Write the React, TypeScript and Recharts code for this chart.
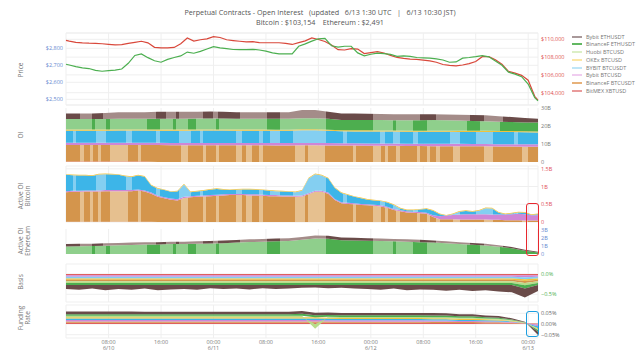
import React from 'react';
import { ComposedChart, Area, Line, XAxis, YAxis, CartesianGrid } from 'recharts';

// time axis: hours since 6/10 00:00 (UTC)
const T0 = 1.5;
const T1 = 73.5;
const xTicks = [8, 16, 24, 32, 40, 48, 56, 64, 72];
const xTickTimes = ['08:00', '16:00', '00:00', '08:00', '16:00', '00:00', '08:00', '16:00', '00:00'];
const xTickDates = ['6/10', '', '6/11', '', '', '6/12', '', '', '6/13'];

// ---- price (hourly) ----
const priceHours = [1.5, 2, 3, 4, 5, 6, 7, 8, 9, 10, 11, 12, 13, 14, 15, 16, 17, 18, 19, 20, 21, 22, 23, 24, 25, 26, 27, 28, 29, 30,
  31, 32, 33, 34, 35, 36, 37, 38, 39, 40, 41, 42, 43, 44, 45, 46, 47, 48, 49, 50, 51, 52, 53, 54, 55, 56, 57, 58, 59, 60,
  61, 62, 63, 64, 65, 66, 67, 68, 69, 70, 71, 72, 73, 73.5];
const btcPrice = [
  109880, 109800, 109660, 109600, 109560, 109540, 109500, 109440, 109380, 109400,
  109550, 109660, 109780, 109600, 109100, 109030, 109030, 109090, 109500, 110150,
  109800, 109950, 110050, 110300, 110200, 109950, 109860, 109780, 109700, 109730,
  109620, 109615, 109615, 109615, 109540, 109420, 109620, 109820, 110150, 109980,
  109760, 109350, 108830, 108800, 108950, 108900, 108400, 108510, 108620, 108460,
  108190, 107960, 107850, 107770, 107740, 107660, 107570, 107420, 107170, 107060,
  107020, 107110, 107270, 107500, 108050, 108050, 107700, 107200, 106400, 106200,
  105950, 105400, 103600, 103154];
const ethPrice = [
  2706, 2702, 2692, 2685, 2681, 2670, 2665, 2669, 2672, 2678,
  2712, 2758, 2767, 2745, 2727, 2718, 2735, 2746, 2755, 2778,
  2771, 2782, 2796, 2810, 2803, 2798, 2793, 2792, 2792, 2794,
  2790, 2783, 2773, 2767, 2767, 2767, 2812, 2826, 2842, 2856,
  2858, 2815, 2807, 2812, 2812, 2773, 2756, 2765, 2772, 2769,
  2764, 2753, 2755, 2752, 2746, 2744, 2742, 2738, 2731, 2718,
  2720, 2742, 2746, 2751, 2757, 2750, 2725, 2700, 2660, 2648,
  2633, 2590, 2510, 2491];

// ---- open interest (2-hourly, billions USD) ----
const oiHours = [1.5, 3.5, 5.5, 7.5, 9.5, 11.5, 13.5, 15.5, 17.5, 19.5, 21.5, 23.5, 25.5, 27.5, 29.5, 31.5, 33.5, 35.5, 37.5,
  39.5, 41.5, 43.5, 45.5, 47.5, 49.5, 51.5, 53.5, 55.5, 57.5, 59.5, 61.5, 63.5, 65.5, 67.5, 69.5, 71.5, 73.5];
const bitmexOi = [0.3, 0.3, 0.3, 0.3, 0.3, 0.3, 0.3, 0, 0, 0, 0, 0, 0, 0, 0, 0, 0, 0, 0, 0, 0, 0, 0, 0, 0, 0, 0, 0, 0, 0, 0, 0, 0, 0, 0, 0, 0];
const binanceBtcOi = [9.1, 9.1, 9.1, 9.1, 9.1, 9.1, 9.1, 9.4, 9.3, 9.3, 9.3, 9.3, 9.3, 9.3, 9.3, 9.3, 9.2, 9.2, 9.3,
  9.3, 9.2, 9.1, 9.1, 9.0, 9.0, 9.0, 8.9, 8.9, 8.8, 8.8, 8.8, 8.7, 8.7, 8.6, 8.6, 8.5, 8.5];
const bybitInvOi = [1.3, 1.3, 1.3, 1.3, 1.3, 1.3, 1.3, 1.3, 1.3, 1.3, 1.3, 1.3, 1.3, 1.3, 1.3, 1.3, 1.3, 1.3, 1.3,
  1.3, 1.3, 1.3, 1.3, 1.3, 1.3, 1.3, 1.3, 1.3, 1.3, 1.3, 1.3, 1.3, 1.3, 1.3, 1.3, 1.3, 1.3];
const bybitBtcOi = [6.7, 6.7, 6.7, 6.7, 6.8, 6.8, 6.8, 6.7, 6.8, 6.8, 6.9, 6.9, 6.9, 6.8, 6.8, 6.8, 6.8, 6.8, 7.0,
  7.0, 6.8, 6.7, 6.6, 6.7, 6.6, 6.6, 6.6, 6.6, 6.7, 6.7, 6.6, 6.7, 6.7, 6.7, 6.7, 6.7, 6.6];
const okexOi = [0.6, 0.6, 0.6, 0.6, 0.6, 0.6, 0.6, 0.6, 0.6, 0.6, 0.6, 0.6, 0.6, 0.6, 0.6, 0.6, 0.6, 0.6, 0.6,
  0.6, 0.6, 0.6, 0.6, 0.6, 0.6, 0.6, 0.6, 0.6, 0.6, 0.6, 0.6, 0.6, 0.6, 0.6, 0.6, 0.6, 0.6];
const binanceEthOi = [5.9, 5.9, 5.9, 5.9, 5.9, 5.9, 5.9, 6.0, 6.0, 6.0, 6.0, 6.1, 6.0, 6.0, 6.0, 6.0, 6.1, 6.1, 6.1,
  6.1, 6.1, 5.7, 5.7, 5.7, 5.8, 5.7, 5.8, 5.8, 5.9, 5.8, 5.7, 5.5, 5.3, 5.2, 5.0, 4.9, 5.0];
const bybitEthOi = [3.1, 3.1, 3.1, 3.3, 3.6, 3.6, 3.6, 3.9, 3.9, 3.9, 3.8, 3.8, 3.8, 3.6, 3.6, 3.6, 3.6, 3.6, 4.6,
  4.6, 3.9, 3.6, 3.7, 3.5, 3.3, 3.3, 3.3, 3.3, 3.2, 3.2, 3.2, 3.3, 3.4, 3.0, 2.8, 2.4, 2.0];

// ---- active OI bitcoin (hourly, billions) ----
const activeHours = [1.5, 2.5, 3.5, 4.5, 5.5, 6.5, 7.5, 8.5, 9.5, 10.5, 11.5, 12.5, 13.5, 14.5, 15.5, 16.5, 17.5, 18.5, 19.5, 20.5,
  21.5, 22.5, 23.5, 24.5, 25.5, 26.5, 27.5, 28.5, 29.5, 30.5, 31.5, 32.5, 33.5, 34.5, 35.5, 36.5, 37.5, 38.5, 39.5, 40.5,
  41.5, 42.5, 43.5, 44.5, 45.5, 46.5, 47.5, 48.5, 49.5, 50.5, 51.5, 52.5, 53.5, 54.5, 55.5, 56.5, 57.5, 58.5, 59.5, 60.5,
  61.5, 62.5, 63.5, 64.5, 65.5, 66.5, 67.5, 68.5, 69.5, 70.5, 71.5, 72.5, 73.5];
const bitmexActive = [0.01, 0.01, 0.01, 0.01, 0.01, 0.01, 0.01, 0.01, 0.01, 0.01, 0.01, 0.01, 0.01, 0.01, 0, 0, 0, 0, 0, 0,
  0, 0, 0, 0, 0, 0, 0, 0, 0, 0, 0, 0, 0, 0, 0, 0, 0, 0, 0, 0, 0, 0, 0, 0, 0, 0, 0, 0, 0, 0,
  0, 0, 0, 0, 0, 0, 0, 0, 0, 0, 0, 0, 0, 0, 0, 0, 0, 0, 0, 0, 0, 0, 0];
const binanceBtcActive = [
  0.83, 0.84, 0.84, 0.85, 0.85, 0.85, 0.86, 0.86, 0.86, 0.86,
  0.86, 0.88, 0.85, 0.79, 0.71, 0.67, 0.63, 0.61, 0.68, 0.70,
  0.71, 0.72, 0.73, 0.74, 0.75, 0.76, 0.76, 0.76, 0.75, 0.75,
  0.74, 0.73, 0.73, 0.72, 0.72, 0.71, 0.72, 0.78, 0.85, 0.85,
  0.80, 0.62, 0.53, 0.51, 0.50, 0.48, 0.47, 0.46, 0.44, 0.40,
  0.34, 0.30, 0.27, 0.26, 0.25, 0.23, 0.14, 0.08, 0.08, 0.08,
  0.07, 0.07, 0.07, 0.07, 0.07, 0.06, 0.06, 0.05, 0.05, 0.05,
  0.04, 0.04, 0.04];
const bybitInvActive = [
  0.03, 0.03, 0.03, 0.03, 0.03, 0.03, 0.03, 0.03, 0.03, 0.03,
  0.03, 0.03, 0.03, 0.03, 0.03, 0.03, 0.03, 0.03, 0.03, 0.03,
  0.03, 0.03, 0.03, 0.03, 0.03, 0.03, 0.03, 0.03, 0.03, 0.03,
  0.03, 0.03, 0.03, 0.03, 0.03, 0.03, 0.03, 0.03, 0.03, 0.03,
  0.03, 0.03, 0.03, 0.03, 0.03, 0.03, 0.03, 0.03, 0.03, 0.03,
  0.03, 0.03, 0.03, 0.03, 0.03, 0.03, 0.05, 0.08, 0.10, 0.12,
  0.14, 0.15, 0.15, 0.15, 0.15, 0.15, 0.15, 0.16, 0.17, 0.18,
  0.18, 0.15, 0.15];
const bybitBtcActive = [
  0.46, 0.44, 0.43, 0.42, 0.41, 0.45, 0.45, 0.44, 0.43, 0.39,
  0.37, 0.39, 0.39, 0.20, 0.20, 0.20, 0.19, 0.22, 0.35, 0.11,
  0.12, 0.13, 0.15, 0.16, 0.13, 0.11, 0.12, 0.13, 0.14, 0.13,
  0.13, 0.12, 0.11, 0.11, 0.10, 0.10, 0.13, 0.42, 0.47, 0.43,
  0.40, 0.31, 0.26, 0.22, 0.18, 0.16, 0.13, 0.12, 0.12, 0.12,
  0.11, 0.05, 0.03, 0.04, 0.07, 0.11, 0.13, 0.06, 0.00, 0.02,
  0.08, 0.09, 0.07, 0.10, 0.17, 0.17, 0.05, 0.01, 0.02, 0.04,
  0.04, 0.01, 0.03];
const okexActive = [
  0.02, 0.02, 0.02, 0.02, 0.02, 0.02, 0.02, 0.02, 0.02, 0.02,
  0.02, 0.02, 0.02, 0.02, 0.02, 0.02, 0.02, 0.02, 0.02, 0.02,
  0.02, 0.02, 0.02, 0.02, 0.02, 0.02, 0.02, 0.02, 0.02, 0.02,
  0.02, 0.02, 0.02, 0.02, 0.02, 0.02, 0.02, 0.02, 0.02, 0.02,
  0.02, 0.02, 0.02, 0.02, 0.02, 0.02, 0.02, 0.02, 0.02, 0.02,
  0.02, 0.02, 0.02, 0.02, 0.02, 0.02, 0.02, 0.02, 0.02, 0.02,
  0.02, 0.02, 0.02, 0.02, 0.02, 0.02, 0.02, 0.02, 0.02, 0.02,
  0.02, 0.02, 0.02];

// ---- active OI ethereum (2-hourly, billions) ----
const binanceEthActive = [0.95, 0.98, 1.0, 1.05, 1.1, 1.15, 1.2, 1.2, 1.25, 1.25, 1.28, 1.33, 1.37, 1.45, 1.51, 1.55, 1.6, 1.65, 1.8,
  1.95, 1.92, 1.75, 1.72, 1.68, 1.65, 1.6, 1.55, 1.5, 1.44, 1.35, 1.25, 1.16, 1.06, 0.92, 0.72, 0.4, 0.18];
const bybitEthActive = [0.3, 0.3, 0.3, 0.3, 0.3, 0.3, 0.3, 0.3, 0.3, 0.3, 0.32, 0.32, 0.33, 0.33, 0.34, 0.35, 0.35, 0.35, 0.35,
  0.4, 0.38, 0.35, 0.33, 0.32, 0.3, 0.3, 0.3, 0.3, 0.28, 0.27, 0.25, 0.24, 0.22, 0.2, 0.18, 0.15, 0.12];

// ---- basis (2-hourly, %) ----
const bitmexBasis = [-0.03, -0.03, -0.03, -0.03, -0.03, -0.03, -0.03, -0.03, -0.03, -0.03, -0.03, -0.03, -0.03, -0.03, -0.03, -0.03, -0.03, -0.03, -0.03,
  -0.03, -0.03, -0.03, -0.03, -0.03, -0.03, -0.03, -0.03, -0.03, -0.03, -0.03, -0.03, -0.03, -0.03, -0.03, -0.03, -0.03, -0.03];
const bybitInvBasis = [-0.04, -0.04, -0.04, -0.04, -0.04, -0.04, -0.04, -0.04, -0.04, -0.04, -0.04, -0.04, -0.04, -0.04, -0.04, -0.04, -0.04, -0.04, -0.04,
  -0.04, -0.04, -0.04, -0.04, -0.04, -0.04, -0.04, -0.04, -0.04, -0.04, -0.04, -0.04, -0.04, -0.04, -0.04, -0.04, -0.05, -0.04];
const bybitBtcBasis = [-0.04, -0.04, -0.04, -0.04, -0.04, -0.04, -0.04, -0.04, -0.04, -0.04, -0.04, -0.04, -0.04, -0.04, -0.04, -0.04, -0.04, -0.04, -0.04,
  -0.04, -0.04, -0.04, -0.04, -0.04, -0.04, -0.04, -0.04, -0.04, -0.04, -0.04, -0.04, -0.04, -0.04, -0.04, -0.04, -0.05, -0.04];
const okexBasis = [-0.03, -0.03, -0.03, -0.03, -0.03, -0.03, -0.03, -0.03, -0.03, -0.03, -0.03, -0.03, -0.03, -0.03, -0.03, -0.03, -0.03, -0.03, -0.03,
  -0.03, -0.03, -0.03, -0.03, -0.03, -0.03, -0.03, -0.03, -0.03, -0.03, -0.03, -0.03, -0.03, -0.03, -0.03, -0.03, -0.04, -0.03];
const binanceBtcBasis = [-0.04, -0.04, -0.04, -0.04, -0.04, -0.04, -0.04, -0.04, -0.04, -0.04, -0.04, -0.04, -0.04, -0.04, -0.04, -0.04, -0.04, -0.04, -0.04,
  -0.04, -0.04, -0.04, -0.04, -0.04, -0.04, -0.04, -0.04, -0.04, -0.04, -0.04, -0.04, -0.04, -0.04, -0.04, -0.04, -0.05, -0.04];
const huobiBasis = [-0.04, -0.04, -0.04, -0.04, -0.04, -0.04, -0.04, -0.04, -0.04, -0.04, -0.04, -0.04, -0.04, -0.04, -0.04, -0.04, -0.04, -0.04, -0.04,
  -0.04, -0.04, -0.04, -0.04, -0.04, -0.04, -0.04, -0.04, -0.04, -0.04, -0.04, -0.04, -0.04, -0.04, -0.04, -0.04, -0.06, -0.04];
const binanceEthBasis = [-0.05, -0.05, -0.05, -0.05, -0.05, -0.05, -0.05, -0.05, -0.05, -0.05, -0.05, -0.05, -0.05, -0.05, -0.05, -0.05, -0.05, -0.05, -0.05,
  -0.05, -0.05, -0.05, -0.05, -0.05, -0.05, -0.05, -0.05, -0.05, -0.05, -0.05, -0.05, -0.05, -0.05, -0.05, -0.05, -0.08, -0.05];
const bybitEthBasis = [-0.10, -0.12, -0.09, -0.13, -0.10, -0.12, -0.09, -0.13, -0.11, -0.10, -0.12, -0.08, -0.10, -0.09, -0.11, -0.08, -0.10, -0.09, -0.07,
  -0.06, -0.08, -0.07, -0.09, -0.10, -0.12, -0.09, -0.13, -0.11, -0.12, -0.14, -0.12, -0.15, -0.13, -0.16, -0.18, -0.22, -0.15];

// ---- funding rate (2-hourly, %) ----
const bitmexFunding = [0.006, 0.006, 0.006, 0.006, 0.006, 0.006, 0.006, 0.006, 0.006, 0.006, 0.006, 0.006, 0.006, 0.006, 0.006, 0.006, 0.006, 0.006, 0.006,
  0.006, 0.006, 0.006, 0.006, 0.006, 0.006, 0.006, 0.006, 0.006, 0.005, 0.005, 0.005, 0.005, 0.004, 0.004, 0.003, 0.002, 0.002];
const binanceBtcFunding = [0.006, 0.006, 0.006, 0.006, 0.006, 0.006, 0.006, 0.006, 0.006, 0.006, 0.006, 0.006, 0.006, 0.006, 0.006, 0.006, 0.006, 0.006, 0.006,
  0.006, 0.006, 0.005, 0.005, 0.005, 0.005, 0.005, 0.005, 0.005, 0.005, 0.005, 0.004, 0.004, 0.004, 0.004, 0.003, 0.001, -0.002];
const bybitInvFunding = [0.007, 0.007, 0.007, 0.007, 0.007, 0.007, 0.007, 0.007, 0.007, 0.007, 0.007, 0.007, 0.007, 0.007, 0.007, 0.007, 0.007, 0.007, 0.007,
  0.007, 0.006, 0.006, 0.006, 0.006, 0.006, 0.006, 0.006, 0.006, 0.006, 0.006, 0.005, 0.005, 0.005, 0.004, 0.003, 0.001, -0.008];
const bybitBtcFunding = [0.007, 0.007, 0.007, 0.007, 0.007, 0.007, 0.007, 0.007, 0.007, 0.007, 0.007, 0.007, 0.007, 0.007, 0.007, 0.007, 0.007, 0.007, 0.007,
  0.007, 0.006, 0.006, 0.006, 0.006, 0.006, 0.006, 0.006, 0.006, 0.006, 0.006, 0.005, 0.005, 0.005, 0.004, 0.003, 0.001, -0.010];
const okexFunding = [0.006, 0.006, 0.006, 0.006, 0.006, 0.006, 0.006, 0.006, 0.006, 0.006, 0.006, 0.006, 0.006, 0.006, 0.006, 0.006, 0.006, 0.006, 0.006,
  0.006, 0.005, 0.005, 0.005, 0.005, 0.005, 0.005, 0.005, 0.005, 0.005, 0.005, 0.005, 0.005, 0.004, 0.004, 0.003, 0.001, -0.004];
const huobiFunding = [0.006, 0.006, 0.006, 0.006, 0.006, 0.006, 0.006, 0.006, 0.006, 0.006, 0.006, 0.006, 0.006, 0.006, 0.006, 0.006, 0.006, 0.006, 0.006,
  -0.022, 0.005, 0.005, 0.005, 0.005, 0.005, 0.005, 0.005, 0.005, 0.005, 0.005, 0.005, 0.005, 0.004, 0.004, 0.003, 0.001, -0.004];
const binanceEthFunding = [0.008, 0.008, 0.008, 0.008, 0.008, 0.008, 0.008, 0.008, 0.008, 0.008, 0.008, 0.008, 0.008, 0.008, 0.008, 0.008, 0.008, 0.008, 0.010,
  0.009, 0.008, 0.008, 0.008, 0.008, 0.008, 0.008, 0.008, 0.008, 0.008, 0.008, 0.007, 0.007, 0.006, 0.005, 0.003, 0.001, -0.008];
const bybitEthFunding = [0.012, 0.012, 0.012, 0.012, 0.012, 0.012, 0.011, 0.011, 0.011, 0.011, 0.011, 0.011, 0.011, 0.011, 0.011, 0.011, 0.011, 0.011, 0.013,
  0.012, 0.012, 0.011, 0.011, 0.011, 0.011, 0.011, 0.011, 0.011, 0.011, 0.010, 0.010, 0.010, 0.008, 0.008, 0.006, 0.002, -0.015];

// periods drawn in the alternate shade (hours)
const orangeAlt = [[3.6, 4.3], [5.1, 5.6], [6.4, 6.9], [8.2, 11.0], [12.5, 13.0], [19.1, 20.1], [22.4, 22.9], [24.4, 24.9],
  [27.5, 28.3], [29.0, 29.8], [31.0, 31.6], [36.4, 37.9], [38.4, 41.0], [45.3, 45.8], [48.4, 49.6], [50.1, 50.6],
  [51.9, 52.4], [55.0, 55.5], [56.5, 57.0], [58.0, 58.5], [60.6, 61.6], [65.2, 66.7], [71.1, 72.0]];
const blueAlt = [[2.6, 3.1], [6.1, 7.6], [10.7, 11.5], [15.3, 15.8], [18.8, 20.6], [21.9, 22.4], [27.5, 28.3], [31.0, 31.6],
  [32.6, 34.1], [36.1, 41.2], [43.8, 44.3], [49.4, 50.1], [51.4, 52.4], [54.5, 55.2], [60.1, 61.6], [64.1, 66.7], [69.8, 70.4]];
const greenAlt = [[5.4, 5.9], [7.6, 8.2], [13.8, 15.8], [17.8, 18.3], [20.1, 21.4], [24.4, 24.9], [32.1, 34.1], [41.2, 48.4],
  [51.4, 51.9], [54.5, 56.5], [62.6, 64.6], [67.7, 73.5]];
const brownAlt = [[1.5, 3.6], [5.4, 7.1], [15.3, 16.8], [18.3, 18.8], [22.4, 23.9], [24.7, 28.0], [32.1, 34.1], [41.2, 48.4],
  [55.5, 58.0], [63.1, 65.2], [68.2, 73.5]];

const C = {
  red: '#e0605c',
  orange: '#d4954c',
  orangeLight: '#e6c08f',
  pink: '#cf86d6',
  blue: '#3db5e8',
  blueLight: '#84cff1',
  yellow: '#f0c23e',
  huobi: '#b9dc8a',
  green: '#8fcf8c',
  greenDark: '#4dae4f',
  brown: '#a48c89',
  brownDark: '#6a4b49',
};

const legendItems = [
  { name: 'Bybit ETHUSDT', color: '#a9999a' },
  { name: 'BinanceF ETHUSDT', color: '#62b862' },
  { name: 'Huobi BTCUSD', color: '#dcefc6' },
  { name: 'OKEx BTCUSD', color: '#fbe6a6' },
  { name: 'BYBIT BTCUSDT', color: '#bfe6f7' },
  { name: 'Bybit BTCUSD', color: '#f0cdf0' },
  { name: 'BinanceF BTCUSDT', color: '#e7b27a' },
  { name: 'BitMEX XBTUSD', color: '#e99b9b' },
];

const priceData = priceHours.map((t, i) => ({ t, btc: btcPrice[i], eth: ethPrice[i] }));
const oiData = oiHours.map((t, i) => ({
  t, bitmex: bitmexOi[i], binanceBtc: binanceBtcOi[i], bybitInv: bybitInvOi[i], bybitBtc: bybitBtcOi[i],
  okex: okexOi[i], binanceEth: binanceEthOi[i], bybitEth: bybitEthOi[i],
}));
const activeBtcData = activeHours.map((t, i) => ({
  t, bitmex: bitmexActive[i], binanceBtc: binanceBtcActive[i], bybitInv: bybitInvActive[i],
  bybitBtc: bybitBtcActive[i], okex: okexActive[i],
}));
const activeEthData = oiHours.map((t, i) => ({ t, binanceEth: binanceEthActive[i], bybitEth: bybitEthActive[i] }));
const basisData = oiHours.map((t, i) => ({
  t, bitmex: bitmexBasis[i], bybitInv: bybitInvBasis[i], bybitBtc: bybitBtcBasis[i], okex: okexBasis[i],
  binanceBtc: binanceBtcBasis[i], huobi: huobiBasis[i], binanceEth: binanceEthBasis[i], bybitEth: bybitEthBasis[i],
}));
const fundingData = oiHours.map((t, i) => ({
  t, bitmex: bitmexFunding[i], binanceBtc: binanceBtcFunding[i], bybitInv: bybitInvFunding[i], bybitBtc: bybitBtcFunding[i],
  okex: okexFunding[i], huobi: huobiFunding[i], binanceEth: binanceEthFunding[i], bybitEth: bybitEthFunding[i],
}));

const PAD = 6;
const LEFT = 66;
const RIGHT_W = 102;
const FONT = '"Open Sans", "DejaVu Sans", sans-serif';
const tickStyle = (fill: string) => ({ fontSize: 5.5, fill });
const minus = (s: string) => s.replace('-', '\u2212');

function stripes(id: string, base: string, alt: string, spans: number[][]) {
  const f = (t: number) => (((t - T0) / (T1 - T0)) * 100).toFixed(3) + '%';
  const stops = [<stop key="s" offset="0%" stopColor={base} />];
  spans.forEach(([a, b], i) => {
    stops.push(<stop key={i + 'a'} offset={f(a)} stopColor={base} />);
    stops.push(<stop key={i + 'b'} offset={f(a)} stopColor={alt} />);
    stops.push(<stop key={i + 'c'} offset={f(b)} stopColor={alt} />);
    stops.push(<stop key={i + 'd'} offset={f(b)} stopColor={base} />);
  });
  stops.push(<stop key="e" offset="100%" stopColor={base} />);
  return <linearGradient id={id} x1="0" y1="0" x2="1" y2="0">{stops}</linearGradient>;
}

const XTick = (props: any) => {
  const { x, y, payload } = props;
  const i = xTicks.indexOf(payload.value);
  return (
    <g>
      <text x={x} y={y + 3.5} textAnchor="middle" fontSize={5.5} fill="#777">{xTickTimes[i]}</text>
      {xTickDates[i] ? <text x={x} y={y + 10} textAnchor="middle" fontSize={5.5} fill="#777">{xTickDates[i]}</text> : null}
    </g>
  );
};

const hiddenX = <XAxis dataKey="t" type="number" domain={[T0, T1]} ticks={xTicks} hide />;

const area = (key: string, fill: string, stack: string) => (
  <Area key={key} dataKey={key} stackId={stack} type="linear" stroke="none" fill={fill} fillOpacity={1} isAnimationActive={false} />
);

const PanelLabel = ({ x, y, text }: { x: number; y: number; text: string }) => (
  <div style={{
    position: 'absolute', left: x, top: y, transform: 'translate(-50%, -50%) rotate(-90deg)',
    fontSize: 6.5, color: '#777', whiteSpace: 'pre', textAlign: 'center', lineHeight: 1.1,
  }}>{text}</div>
);

const rightAxis = (domain: number[], ticks: number[], color: string, fmt: (v: number) => string) => (
  <YAxis orientation="right" width={RIGHT_W} domain={domain} ticks={ticks} interval={0} allowDataOverflow
    tickLine={false} axisLine={false} tickSize={0} tickMargin={3} tick={tickStyle(color)} tickFormatter={fmt} />
);

const fmtB = (v: number) => (v === 0 ? '0' : v + 'B');
const fmtUsd = (v: number) => '$' + String(v).replace(/\B(?=(\d{3})+(?!\d))/g, ',');

export default function App() {
  return (
    <div style={{ position: 'absolute', left: 0, top: 0, width: 640, height: 360, background: '#fff', fontFamily: FONT, overflow: 'hidden' }}>
      <svg width={0} height={0} style={{ position: 'absolute' }}>
        <defs>
          {stripes('gOrange', C.orange, C.orangeLight, orangeAlt)}
          {stripes('gBlue', C.blue, C.blueLight, blueAlt)}
          {stripes('gGreen', C.green, C.greenDark, greenAlt)}
          {stripes('gBrown', C.brown, C.brownDark, brownAlt)}
        </defs>
      </svg>

      <div style={{ position: 'absolute', left: 0, width: 640, top: 8, textAlign: 'center', fontSize: 7.2, color: '#555', whiteSpace: 'pre', lineHeight: '9.5px' }}>
        {'Perpetual Contracts - Open Interest   (updated   6/13 1:30 UTC   |   6/13 10:30 JST)'}
        <br />
        {'Bitcoin : $103,154    Ethereum : $2,491'}
      </div>

      <PanelLabel x={21} y={70} text="Price" />
      <PanelLabel x={21} y={135} text="OI" />
      <PanelLabel x={24} y={196} text={'Active OI\nBitcoin'} />
      <PanelLabel x={24} y={241} text={'Active OI\nEthereum'} />
      <PanelLabel x={21} y={282} text="Basis" />
      <PanelLabel x={24} y={318} text={'Funding\nRate'} />

      {/* Price */}
      <div style={{ position: 'absolute', left: 0, top: 33 - PAD }}>
        <ComposedChart width={640} height={72 + 2 * PAD} data={priceData} margin={{ top: PAD, bottom: PAD, left: 0, right: 0 }}>
          <CartesianGrid stroke="#efefef" yAxisId="eth" />
          <CartesianGrid stroke="#efefef" yAxisId="btc" vertical={false} />
          {hiddenX}
          <YAxis yAxisId="eth" orientation="left" width={LEFT} domain={[2466.5, 2890]} ticks={[2500, 2600, 2700, 2800]} interval={0}
            allowDataOverflow tickLine={false} axisLine={false} tickSize={0} tickMargin={3} tick={tickStyle('#6688d0')}
            tickFormatter={fmtUsd} />
          <YAxis yAxisId="btc" orientation="right" width={RIGHT_W} domain={[102618, 110708]} ticks={[104000, 106000, 108000, 110000]} interval={0}
            allowDataOverflow tickLine={false} axisLine={false} tickSize={0} tickMargin={3} tick={tickStyle('#dd5050')}
            tickFormatter={fmtUsd} />
          <Line yAxisId="btc" dataKey="btc" type="linear" stroke="#d9483b" strokeWidth={1.2} dot={false} isAnimationActive={false} />
          <Line yAxisId="eth" dataKey="eth" type="linear" stroke="#4caf50" strokeWidth={1.2} dot={false} isAnimationActive={false} />
        </ComposedChart>
      </div>

      {/* OI */}
      <div style={{ position: 'absolute', left: 0, top: 108 - PAD }}>
        <ComposedChart width={640} height={54 + 2 * PAD} data={oiData} margin={{ top: PAD, bottom: PAD, left: LEFT, right: 0 }}>
          <CartesianGrid stroke="#efefef" horizontal={false} />
          {hiddenX}
          {rightAxis([0, 30], [0, 10, 20, 30], '#777', fmtB)}
          {area('bitmex', C.red, 'oi')}
          {area('binanceBtc', 'url(#gOrange)', 'oi')}
          {area('bybitInv', C.pink, 'oi')}
          {area('bybitBtc', 'url(#gBlue)', 'oi')}
          {area('okex', C.yellow, 'oi')}
          {area('binanceEth', 'url(#gGreen)', 'oi')}
          {area('bybitEth', 'url(#gBrown)', 'oi')}
        </ComposedChart>
      </div>

      {/* Active OI Bitcoin */}
      <div style={{ position: 'absolute', left: 0, top: 166 - PAD }}>
        <ComposedChart width={640} height={56 + 2 * PAD} data={activeBtcData} margin={{ top: PAD, bottom: PAD, left: LEFT, right: 0 }}>
          <CartesianGrid stroke="#efefef" />
          {hiddenX}
          {rightAxis([0, 1.58], [0, 0.5, 1, 1.5], '#e0505a', fmtB)}
          {area('bitmex', C.red, 'a')}
          {area('binanceBtc', 'url(#gOrange)', 'a')}
          {area('bybitInv', C.pink, 'a')}
          {area('bybitBtc', 'url(#gBlue)', 'a')}
          {area('okex', C.yellow, 'a')}
        </ComposedChart>
      </div>

      {/* Active OI Ethereum */}
      <div style={{ position: 'absolute', left: 0, top: 229 - PAD }}>
        <ComposedChart width={640} height={25 + 2 * PAD} data={activeEthData} margin={{ top: PAD, bottom: PAD, left: LEFT, right: 0 }}>
          <CartesianGrid stroke="#efefef" horizontal={false} />
          {hiddenX}
          {rightAxis([0, 3.16], [0, 1, 2, 3], '#6688d0', fmtB)}
          {area('binanceEth', 'url(#gGreen)', 'e')}
          {area('bybitEth', 'url(#gBrown)', 'e')}
        </ComposedChart>
      </div>

      {/* Basis */}
      <div style={{ position: 'absolute', left: 0, top: 264 - PAD }}>
        <ComposedChart width={640} height={38 + 2 * PAD} data={basisData} stackOffset="sign" margin={{ top: PAD, bottom: PAD, left: LEFT, right: 0 }}>
          <CartesianGrid stroke="#efefef" />
          {hiddenX}
          {rightAxis([-0.69, 0.246], [-0.5, 0], '#4caf50', (v: number) => minus(v.toFixed(1) + '%'))}
          {area('bitmex', C.red, 'b')}
          {area('bybitInv', C.pink, 'b')}
          {area('bybitBtc', C.blueLight, 'b')}
          {area('okex', C.yellow, 'b')}
          {area('binanceBtc', C.orange, 'b')}
          {area('huobi', C.huobi, 'b')}
          {area('binanceEth', C.greenDark, 'b')}
          {area('bybitEth', C.brownDark, 'b')}
        </ComposedChart>
      </div>

      {/* Funding rate */}
      <div style={{ position: 'absolute', left: 0, top: 305 - PAD }}>
        <ComposedChart width={640} height={33 + PAD + 22} data={fundingData} stackOffset="sign" margin={{ top: PAD, bottom: 0, left: LEFT, right: 0 }}>
          <CartesianGrid stroke="#efefef" />
          <XAxis dataKey="t" type="number" domain={[T0, T1]} ticks={xTicks} height={22} tickLine={false} axisLine={false}
            tickSize={0} tick={<XTick />} interval={0} />
          {rightAxis([-0.0654, 0.0888], [-0.05, 0, 0.05], '#666', (v: number) => minus(v.toFixed(2) + '%'))}
          {area('bitmex', C.red, 'f')}
          {area('binanceBtc', C.orange, 'f')}
          {area('bybitInv', C.pink, 'f')}
          {area('bybitBtc', C.blue, 'f')}
          {area('okex', C.yellow, 'f')}
          {area('huobi', C.huobi, 'f')}
          {area('binanceEth', C.greenDark, 'f')}
          {area('bybitEth', C.brownDark, 'f')}
        </ComposedChart>
      </div>

      {/* legend */}
      {legendItems.map((it, i) => (
        <div key={it.name} style={{ position: 'absolute', left: 572, top: 33 + i * 7.75, height: 7, display: 'flex', alignItems: 'center' }}>
          <div style={{ width: 10, height: 2, background: it.color }} />
          <div style={{ marginLeft: 4, fontSize: 5.5, color: '#777', whiteSpace: 'nowrap' }}>{it.name}</div>
        </div>
      ))}

      {/* highlight boxes */}
      <div style={{ position: 'absolute', left: 526, top: 203, width: 13, height: 53, border: '1.5px solid #e8282e', borderRadius: 3, boxSizing: 'border-box' }} />
      <div style={{ position: 'absolute', left: 526, top: 311, width: 13, height: 26, border: '1.5px solid #1c9ee0', borderRadius: 3, boxSizing: 'border-box' }} />
    </div>
  );
}
